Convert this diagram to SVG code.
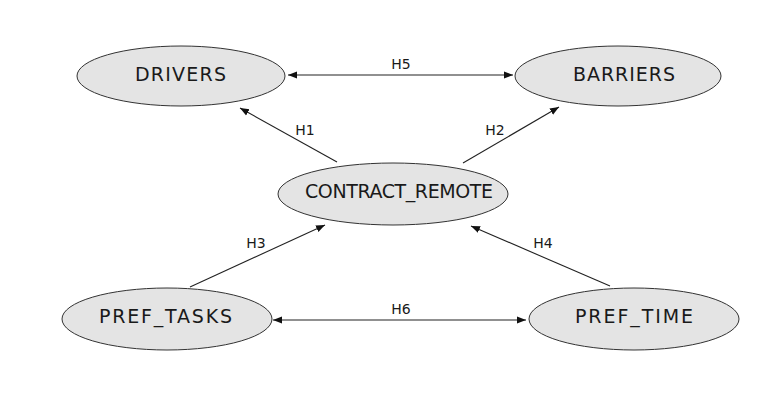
<svg xmlns="http://www.w3.org/2000/svg" width="779" height="399" viewBox="0 0 779 399">
<style>
.node ellipse{fill:#e4e4e4;stroke:#333;stroke-width:1}
.node text{font-family:"DejaVu Sans",Verdana,sans-serif;font-size:19px;fill:#1a1a1a;text-anchor:middle}
.lbl{font-family:"DejaVu Sans",Verdana,sans-serif;font-size:14px;fill:#1a1a1a;text-anchor:middle}
.edge{stroke:#222;stroke-width:1.1;fill:none}
</style>
<defs>
<marker id="ah" viewBox="0 0 10 10" refX="10" refY="5" markerWidth="9" markerHeight="9" markerUnits="userSpaceOnUse" orient="auto-start-reverse">
<path d="M0,1 L10,5 L0,9 Z" fill="#111"/>
</marker>
</defs>
<rect width="779" height="399" fill="#ffffff"/>
<g id="connectors">
<line class="edge" x1="288" y1="75" x2="513" y2="75" marker-start="url(#ah)" marker-end="url(#ah)"/>
<line class="edge" x1="273" y1="320" x2="526" y2="320" marker-start="url(#ah)" marker-end="url(#ah)"/>
<line class="edge" x1="337" y1="162" x2="240" y2="108" marker-end="url(#ah)"/>
<line class="edge" x1="463" y1="163" x2="559" y2="107" marker-end="url(#ah)"/>
<line class="edge" x1="190" y1="287" x2="325" y2="225" marker-end="url(#ah)"/>
<line class="edge" x1="610" y1="286" x2="471" y2="226" marker-end="url(#ah)"/>
<text class="lbl" x="401" y="69">H5</text>
<text class="lbl" x="401" y="314">H6</text>
<text class="lbl" x="305" y="135">H1</text>
<text class="lbl" x="495" y="135">H2</text>
<text class="lbl" x="256" y="248">H3</text>
<text class="lbl" x="543" y="248">H4</text>
</g>
<g id="drivers" class="node">
<ellipse cx="181" cy="76" rx="104" ry="30"/>
<text x="180.5" y="80.5" textLength="91" lengthAdjust="spacing">DRIVERS</text>
</g>
<g id="barriers" class="node">
<ellipse cx="618" cy="76" rx="103" ry="30"/>
<text x="624" y="80.5" textLength="102" lengthAdjust="spacing">BARRIERS</text>
</g>
<g id="contract_remote" class="node">
<ellipse cx="393" cy="194" rx="115" ry="31"/>
<text x="399" y="198" textLength="188" lengthAdjust="spacing">CONTRACT_REMOTE</text>
</g>
<g id="pref_tasks" class="node">
<ellipse cx="167" cy="319" rx="105" ry="31"/>
<text x="165.5" y="323" textLength="133" lengthAdjust="spacing">PREF_TASKS</text>
</g>
<g id="pref_time" class="node">
<ellipse cx="634" cy="319" rx="105" ry="31"/>
<text x="634" y="323" textLength="118" lengthAdjust="spacing">PREF_TIME</text>
</g>
</svg>
